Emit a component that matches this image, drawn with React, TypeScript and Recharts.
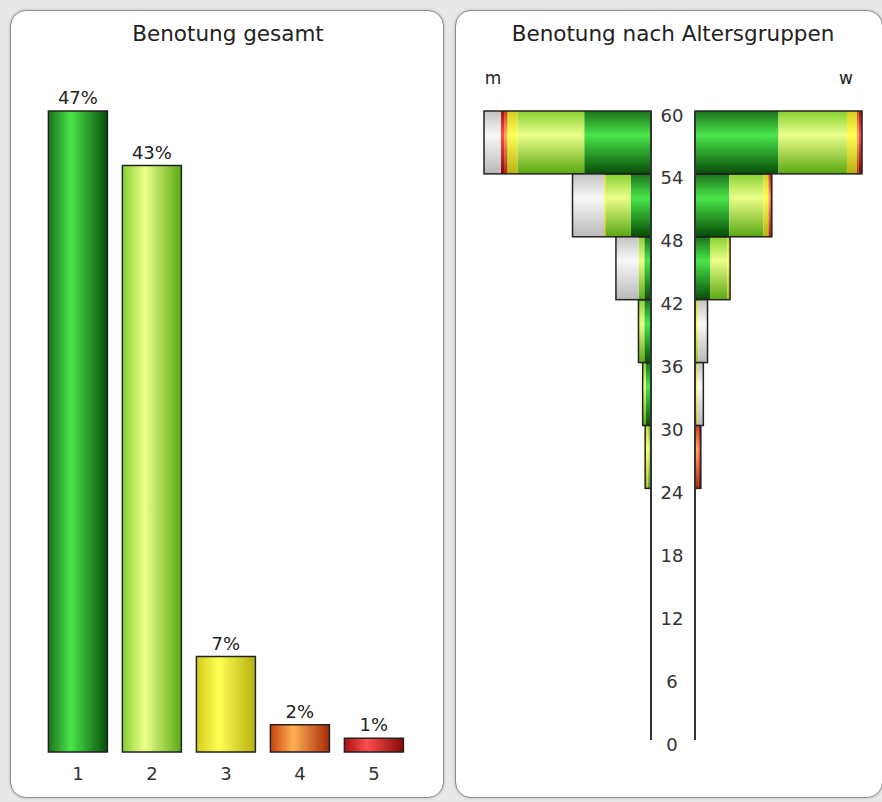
import React from 'react';
import { BarChart, Bar, XAxis, YAxis, Cell, LabelList, ReferenceLine } from 'recharts';

// overall grade distribution
const grades = ['1', '2', '3', '4', '5'];
const gradeShares = [47, 43, 7, 2, 1];

// age bands, oldest first; mids place the bands on the numeric age axis
const ageGroups = ['54-60', '48-54', '42-48', '36-42', '30-36', '24-30'];
const ageMids = [57, 51, 45, 39, 33, 27];
const ageTicks = [0, 6, 12, 18, 24, 30, 36, 42, 48, 54, 60];

// men per band and grade (none = no grade given)
const mGrade1 = [40, 12, 4, 4, 3, 1];
const mGrade2 = [40, 15, 3.5, 3.5, 2, 1];
const mGrade3 = [6, 1, 0, 0, 0, 1.5];
const mGrade4 = [2, 0, 0, 0, 0, 0];
const mGrade5 = [2, 0, 0, 0, 0, 0];
const mNone = [10, 19, 13.5, 0, 0, 0];

// women per band and grade
const wGrade1 = [50, 20.5, 9, 0, 0, 0];
const wGrade2 = [41, 20.5, 10.5, 1, 0, 0];
const wGrade3 = [6, 3, 1.5, 1, 1.5, 0];
const wGrade4 = [1, 1, 0, 0, 0, 2];
const wGrade5 = [2, 1, 0, 0, 0, 1.5];
const wNone = [0, 0, 0, 5.5, 3.5, 0];

const SEG_KEYS = ['g1', 'g2', 'g3', 'g4', 'g5', 'none'];
const FONT = '"DejaVu Sans", Verdana, sans-serif';

const barData = grades.map((g, i) => ({ grade: g, share: gradeShares[i] }));

function buildRows(series: number[][]) {
  return ageGroups.map((group, i) => {
    const row: Record<string, any> = { group, mid: ageMids[i] };
    let total = 0;
    SEG_KEYS.forEach((k, j) => {
      row[k] = series[j][i];
      total += series[j][i];
    });
    row.total = total;
    return row;
  });
}

const mRows = buildRows([mGrade1, mGrade2, mGrade3, mGrade4, mGrade5, mNone]);
const wRows = buildRows([wGrade1, wGrade2, wGrade3, wGrade4, wGrade5, wNone]);

// bar gradients (dark edge, bright highlight, dark edge)
const GRADE_STOPS: Record<string, [string, string, string]> = {
  g1: ['#1b711b', '#4ae64a', '#074c07'],
  g2: ['#86d232', '#ecff8a', '#5aa812'],
  g3: ['#d4cc1e', '#ffff52', '#b8b010'],
  g4: ['#c84010', '#ffb252', '#a82808'],
  g5: ['#a81010', '#ff4e4e', '#880808'],
  none: ['#c2c2c2', '#f8f8f8', '#b8b8b8'],
};
const BAR_GRADES = ['g1', 'g2', 'g3', 'g4', 'g5'];

function Gradients({ prefix, vertical }: { prefix: string; vertical: boolean }) {
  return (
    <defs>
      {Object.entries(GRADE_STOPS).map(([k, [a, b, c]]) => (
        <linearGradient
          key={k}
          id={`${prefix}${k}`}
          x1="0" y1="0"
          x2={vertical ? '0' : '1'}
          y2={vertical ? '1' : '0'}
        >
          <stop offset="0%" stopColor={a} />
          <stop offset="38%" stopColor={b} />
          <stop offset="100%" stopColor={c} />
        </linearGradient>
      ))}
    </defs>
  );
}

// plot frame of the pyramid
const PY_TOP = 111;
const PY_BOTTOM = 740;
// a hair under the band so recharts keeps the full thickness
const BAND = (PY_BOTTOM - PY_TOP) / 10 - 0.02;

// draws one stacked segment; the outermost one also draws the outline of the whole row
function segmentShape(key: string, side: 'm' | 'w') {
  return (props: any) => {
    const { x, y, width, height, payload, fill } = props;
    const value = payload?.[key];
    if (!value) return <g />;
    const left = Math.min(x, x + width);
    const w = Math.abs(width);
    const lastKey = [...SEG_KEYS].reverse().find((k) => payload[k] > 0);
    let outline = null;
    if (lastKey === key) {
      const totalPx = (w / value) * payload.total;
      const ox = side === 'w' ? left + w - totalPx : left;
      outline = (
        <rect x={ox} y={y} width={totalPx} height={height} fill="none" stroke="#222" strokeWidth={1.5} />
      );
    }
    return (
      <g>
        <rect x={left} y={y} width={w} height={height} fill={fill} />
        {outline}
      </g>
    );
  };
}

const AgeTick = (props: any) => {
  const { x, y, payload } = props;
  return (
    <text x={x + 21} y={y + 10.5} textAnchor="middle" fontSize={18} fill="#333" fontFamily={FONT}>
      {payload.value}
    </text>
  );
};

const GradeTick = (props: any) => {
  const { x, y, payload } = props;
  return (
    <text x={x} y={y + 28} textAnchor="middle" fontSize={18} fill="#333" fontFamily={FONT}>
      {payload.value}
    </text>
  );
};

const panel: React.CSSProperties = {
  position: 'absolute',
  top: 10,
  height: 788,
  background: '#fff',
  border: '1.5px solid #8e8e8e',
  borderRadius: 16,
  boxSizing: 'border-box',
  boxShadow: '0 0 3px rgba(0,0,0,0.25)',
};

const centered = (x: number, y: number, size: number): React.CSSProperties => ({
  position: 'absolute',
  left: x,
  top: y,
  transform: 'translate(-50%, -50%)',
  fontFamily: FONT,
  fontSize: size,
  color: '#222',
  whiteSpace: 'nowrap',
});

export default function App() {
  return (
    <div style={{ position: 'absolute', left: 0, top: 0, width: 882, height: 802, background: '#e8e8e8', overflow: 'hidden' }}>
      <div style={{ ...panel, left: 10, width: 434 }} />
      <div style={{ ...panel, left: 455, width: 428 }} />

      <div style={centered(228, 33, 21.5)}>Benotung gesamt</div>
      <div style={centered(673, 33, 21.5)}>Benotung nach Altersgruppen</div>
      <div style={centered(493, 78, 17)}>m</div>
      <div style={centered(846, 78, 17)}>w</div>

      {/* overall grades */}
      <div style={{ position: 'absolute', left: 0, top: 0 }}>
        <BarChart
          width={445}
          height={802}
          data={barData}
          margin={{ top: 111, right: 34, left: 41, bottom: 20 }}
          barCategoryGap="10%"
        >
          <Gradients prefix="b" vertical={false} />
          <XAxis dataKey="grade" axisLine={false} tickLine={false} tickSize={0} tickMargin={0} height={30} tick={<GradeTick />} />
          <YAxis hide domain={[0, 'dataMax']} />
          <Bar dataKey="share" stroke="#222" strokeWidth={1.5} isAnimationActive={false}>
            {barData.map((d, i) => (
              <Cell key={d.grade} fill={`url(#b${BAR_GRADES[i]})`} />
            ))}
            <LabelList
              dataKey="share"
              position="top"
              offset={7}
              formatter={(v: any) => `${v}%`}
              style={{ fontSize: 18, fill: '#222', fontFamily: FONT }}
            />
          </Bar>
        </BarChart>
      </div>

      {/* men, growing to the left, with the age scale on its right edge */}
      <div style={{ position: 'absolute', left: 470, top: 0 }}>
        <BarChart
          layout="vertical"
          width={225}
          height={802}
          data={mRows}
          margin={{ top: PY_TOP, right: 0, left: 14, bottom: 802 - PY_BOTTOM }}
        >
          <Gradients prefix="m" vertical />
          <XAxis type="number" hide reversed domain={[0, 100]} />
          <YAxis
            type="number"
            dataKey="mid"
            orientation="right"
            reversed
            width={44}
            domain={[0, 60]}
            ticks={ageTicks}
            interval={0}
            axisLine={{ stroke: '#333', strokeWidth: 2 }}
            tickLine={false}
            tickSize={0}
            tickMargin={0}
            tick={<AgeTick />}
          />
          {SEG_KEYS.map((k) => (
            <Bar
              key={k}
              dataKey={k}
              stackId="m"
              barSize={BAND}
              fill={`url(#m${k})`}
              shape={segmentShape(k, 'm')}
              isAnimationActive={false}
            />
          ))}
        </BarChart>
      </div>

      {/* women, growing to the right */}
      <div style={{ position: 'absolute', left: 692, top: 0 }}>
        <BarChart
          layout="vertical"
          width={183}
          height={802}
          data={wRows}
          margin={{ top: PY_TOP, right: 13, left: 3, bottom: 802 - PY_BOTTOM }}
        >
          <Gradients prefix="w" vertical />
          <XAxis type="number" hide domain={[0, 100]} />
          <YAxis type="number" dataKey="mid" hide reversed domain={[0, 60]} />
          <ReferenceLine x={0} stroke="#333" strokeWidth={2} />
          {SEG_KEYS.map((k) => (
            <Bar
              key={k}
              dataKey={k}
              stackId="w"
              barSize={BAND}
              fill={`url(#w${k})`}
              shape={segmentShape(k, 'w')}
              isAnimationActive={false}
            />
          ))}
        </BarChart>
      </div>
    </div>
  );
}
